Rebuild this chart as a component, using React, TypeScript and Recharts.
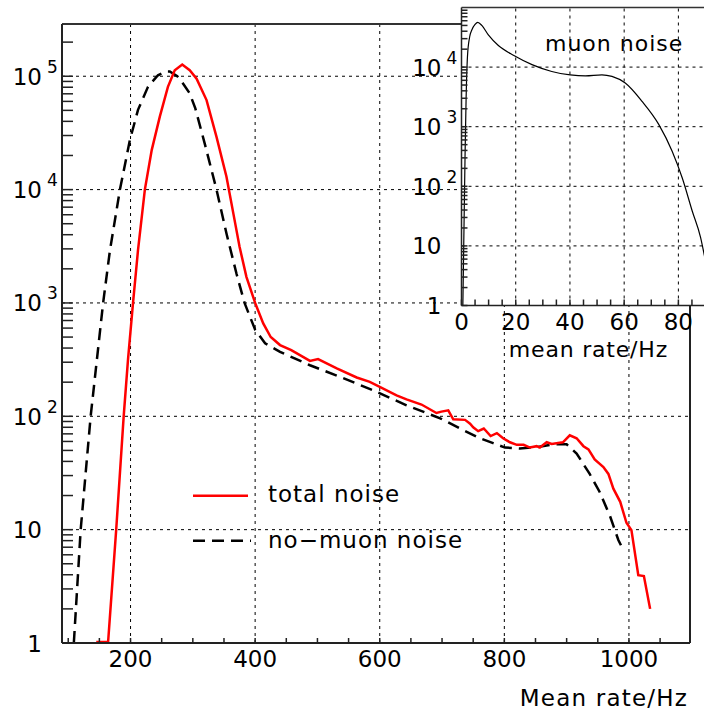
import React from 'react'
import { LineChart, Line, XAxis, YAxis, ReferenceLine, ReferenceArea } from 'recharts'

const FONT = '"DejaVu Sans", sans-serif'

// total noise (red, solid)
const totalRate = [145, 164, 177, 189, 196, 204, 212, 223, 234, 247, 260, 271, 283, 295, 306, 322, 338, 354, 365, 375, 386, 400, 413, 425, 440, 458, 488, 501, 531, 563, 584, 600, 627, 643, 667, 691, 699, 710, 718, 737, 745, 750, 758, 767, 778, 788, 798, 809, 820, 831, 841, 852, 857, 868, 876, 894, 905, 916, 927, 935, 945, 959, 967, 975, 986, 996, 1004, 1015, 1024, 1034]
const totalCount = [1.02, 1.02, 10, 100, 320, 1000, 2920, 10000, 22300, 44000, 80700, 113000, 127000, 113000, 95000, 61600, 29200, 13000, 6170, 3130, 1700, 1000, 660, 500, 425, 383, 308, 320, 265, 220, 201, 182, 153, 141, 127, 107, 110, 113, 94, 93, 86, 80, 74, 78, 67, 71, 64, 59, 56, 56, 53, 54.5, 53, 59, 57, 59, 68, 64, 54.5, 51, 41.6, 35.7, 31, 23, 17.6, 11.5, 9.9, 3.96, 3.9, 2.0]

// no-muon noise (black, dashed)
const noMuonRate = [109, 120, 136, 156, 167, 183, 199, 212, 228, 244, 256, 263, 275, 282, 295, 304, 319, 338, 354, 370, 383, 400, 416, 440, 488, 536, 589, 643, 697, 729, 761, 782, 801, 825, 852, 879, 900, 916, 937, 953, 970, 983, 991]
const noMuonCount = [1, 10, 100, 1000, 2920, 10000, 27400, 50500, 80700, 102000, 110000, 110000, 100000, 90000, 70600, 52000, 25600, 10000, 4100, 1820, 1000, 580, 440, 370, 282, 223, 170, 125, 96, 78, 64, 58, 53, 52, 53.5, 56.6, 56.6, 47, 31, 21.5, 13, 8.1, 6.6]

// inset: muon noise
const muonRate = [0.5, 1.3, 1.7, 2.2, 3.0, 3.8, 5.0, 6.0, 7.5, 9.9, 13.6, 19.5, 26, 33.3, 40.1, 45.7, 51.8, 55.5, 60.4, 66.6, 72.8, 77.7, 81.4, 85.1, 88.2, 90]
const muonCount = [1, 300, 3000, 15000, 32000, 42000, 52000, 56500, 50000, 34700, 23000, 15500, 11000, 8450, 7430, 7150, 7430, 6970, 5400, 2660, 1085, 388, 139, 38.5, 13.8, 5.5]

const totalData = totalRate.map((x, i) => ({ x, y: totalCount[i] }))
const noMuonData = noMuonRate.map((x, i) => ({ x, y: noMuonCount[i] }))
const muonData = muonRate.map((x, i) => ({ x, y: muonCount[i] }))

const decades = [1, 10, 100, 1000, 10000, 100000]
const minorSteps = [1, 2, 3, 4, 5, 6, 7, 8, 9]
const logTicks = decades.flatMap((d) => minorSteps.map((m) => m * d))

const mainXTicks = [100, 150, 200, 250, 300, 350, 400, 450, 500, 550, 600, 650, 700, 750, 800, 850, 900, 950, 1000, 1050]
const mainXLabels = [200, 400, 600, 800, 1000]
const mainYGrid = [10, 100, 1000, 10000, 100000]

const insetXTicks = [0, 5, 10, 15, 20, 25, 30, 35, 40, 45, 50, 55, 60, 65, 70, 75, 80, 85]
const insetXLabels = [0, 20, 40, 60, 80]
const insetYGrid = [10, 100, 1000, 10000]

const X_DOMAIN: [number, number] = [90, 1098]
const Y_DOMAIN: [number, number] = [1, 289000]
const INSET_X: [number, number] = [0, 90]
const INSET_Y: [number, number] = [1, 100000]

const gridProps = { stroke: '#000', strokeWidth: 1, strokeDasharray: '3 4' }

function decadeLabel(v: number) {
  const e = Math.round(Math.log10(v))
  if (Math.abs(Math.pow(10, e) - v) > 1e-6) return null
  return e
}

function LogTick({ x, y, payload, len }: any) {
  const e = decadeLabel(payload.value)
  return (
    <g>
      <line x1={x} x2={x + len} y1={y} y2={y} stroke="#222" strokeWidth={1.5} />
      {e !== null && e <= 1 && (
        <text x={x - 20} y={y + 8.5} textAnchor="end" fontSize={23} fontFamily={FONT} fill="#000">
          {e === 0 ? '1' : '10'}
        </text>
      )}
      {e !== null && e > 1 && (
        <g>
          <text x={x - 20} y={y + 8.5} textAnchor="end" fontSize={23} fontFamily={FONT} fill="#000">
            10
          </text>
          <text x={x - 15} y={y - 3.5} fontSize={17} fontFamily={FONT} fill="#000">
            {e}
          </text>
        </g>
      )}
    </g>
  )
}

function LinTick({ x, y, payload, labels, len }: any) {
  const show = labels.includes(payload.value)
  return (
    <g>
      <line x1={x} x2={x} y1={y} y2={y - len} stroke="#222" strokeWidth={1.5} />
      {show && (
        <text x={x} y={y + 24} textAnchor="middle" fontSize={23} fontFamily={FONT} fill="#000">
          {payload.value}
        </text>
      )}
    </g>
  )
}

function MainChart() {
  return (
    <LineChart width={704} height={713} margin={{ top: 24, right: 14, bottom: 69, left: 61 }}>
      <XAxis
        dataKey="x"
        type="number"
        domain={X_DOMAIN}
        allowDataOverflow
        ticks={mainXTicks}
        interval={0}
        height={1}
        tickSize={0}
        tickMargin={0}
        tickLine={false}
        axisLine={{ stroke: '#222', strokeWidth: 2 }}
        tick={(p: any) => <LinTick {...p} labels={mainXLabels} len={5} />}
      />
      <YAxis
        type="number"
        scale="log"
        domain={Y_DOMAIN}
        allowDataOverflow
        ticks={logTicks.filter((t) => t <= Y_DOMAIN[1])}
        interval={0}
        width={1}
        tickSize={0}
        tickMargin={0}
        tickLine={false}
        axisLine={{ stroke: '#222', strokeWidth: 2 }}
        tick={(p: any) => <LogTick {...p} len={11} />}
      />
      {mainXLabels.map((v) => (
        <ReferenceLine key={`gx${v}`} x={v} {...gridProps} />
      ))}
      {mainYGrid.map((v) => (
        <ReferenceLine key={`gy${v}`} y={v} {...gridProps} />
      ))}
      <ReferenceLine y={Y_DOMAIN[1]} stroke="#333" strokeWidth={2} />
      <ReferenceLine x={X_DOMAIN[1]} stroke="#222" strokeWidth={2} />
      <Line
        data={noMuonData}
        dataKey="y"
        type="linear"
        stroke="#000"
        strokeWidth={2.5}
        strokeDasharray="12 7"
        dot={false}
        isAnimationActive={false}
      />
      <Line
        data={totalData}
        dataKey="y"
        type="linear"
        stroke="#ff0000"
        strokeWidth={2.5}
        dot={false}
        isAnimationActive={false}
      />
    </LineChart>
  )
}

function InsetChart() {
  return (
    <LineChart width={306} height={370} margin={{ top: 7.5, right: 0.5, bottom: 63.5, left: 60.5 }}>
      <XAxis
        dataKey="x"
        type="number"
        domain={INSET_X}
        allowDataOverflow
        ticks={insetXTicks}
        interval={0}
        height={1}
        tickSize={0}
        tickMargin={0}
        tickLine={false}
        axisLine={{ stroke: '#222', strokeWidth: 1.5 }}
        tick={(p: any) => <LinTick {...p} labels={insetXLabels} len={6} />}
      />
      <YAxis
        type="number"
        scale="log"
        domain={INSET_Y}
        allowDataOverflow
        ticks={logTicks.filter((t) => t < INSET_Y[1])}
        interval={0}
        width={1}
        tickSize={0}
        tickMargin={0}
        tickLine={false}
        axisLine={{ stroke: '#222', strokeWidth: 1.5 }}
        tick={(p: any) => <LogTick {...p} len={6} />}
      />
      <ReferenceArea x1={INSET_X[0]} x2={INSET_X[1]} y1={INSET_Y[0]} y2={INSET_Y[1]} fill="#fff" fillOpacity={1} stroke="none" />
      {insetXLabels.filter((v) => v > 0).map((v) => (
        <ReferenceLine key={`ix${v}`} x={v} {...gridProps} />
      ))}
      {insetYGrid.map((v) => (
        <ReferenceLine key={`iy${v}`} y={v} {...gridProps} />
      ))}
      <ReferenceLine y={INSET_Y[1]} stroke="#333" strokeWidth={1.5} />
      <Line
        data={muonData}
        dataKey="y"
        type="monotone"
        stroke="#000"
        strokeWidth={1.2}
        dot={false}
        isAnimationActive={false}
      />
    </LineChart>
  )
}

function Overlay() {
  const t = { fontFamily: FONT, fill: '#000' }
  return (
    <svg width={704} height={713} style={{ position: 'absolute', left: 0, top: 0, pointerEvents: 'none' }}>
      <text x={545} y={51} fontSize={22} letterSpacing={1} {...t}>muon noise</text>
      <text x={668} y={357} fontSize={22} letterSpacing={0.8} textAnchor="end" {...t}>mean rate/Hz</text>
      <text x={688} y={706} fontSize={23} letterSpacing={1.2} textAnchor="end" {...t}>Mean rate/Hz</text>
      {/* legend */}
      <line x1={193} x2={248} y1={495.7} y2={495.7} stroke="#ff0000" strokeWidth={2.5} />
      <text x={268} y={501.5} fontSize={23} letterSpacing={1} {...t}>total noise</text>
      <line x1={193} x2={251} y1={540.7} y2={540.7} stroke="#000" strokeWidth={2.5} strokeDasharray="12 7" />
      <text x={268} y={548} fontSize={23} letterSpacing={1} {...t}>no−muon noise</text>
    </svg>
  )
}

export default function App() {
  return (
    <div style={{ position: 'absolute', left: 0, top: 0, width: 704, height: 713, overflow: 'hidden', background: '#fff' }}>
      <div style={{ position: 'absolute', left: 0, top: 0 }}>
        <MainChart />
      </div>
      <div style={{ position: 'absolute', left: 400, top: 0 }}>
        <InsetChart />
      </div>
      <Overlay />
    </div>
  )
}
